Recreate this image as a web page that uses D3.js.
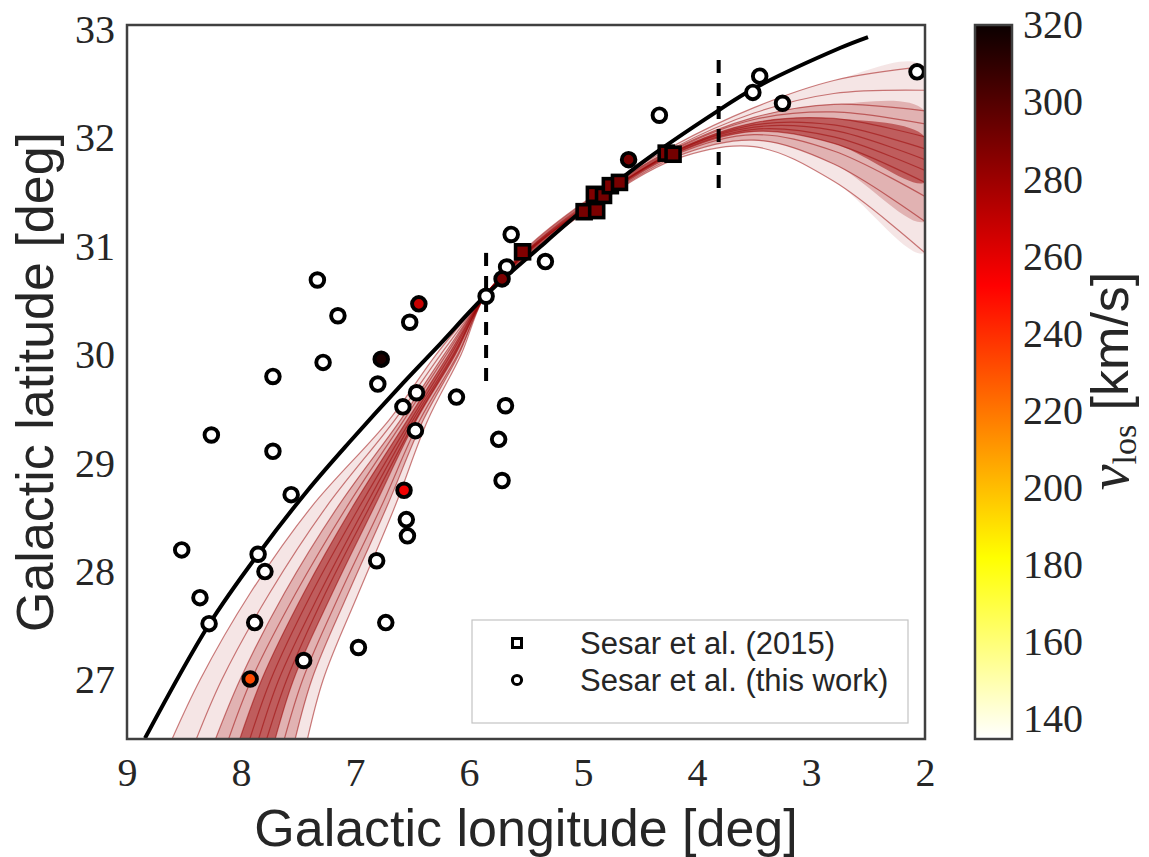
<!DOCTYPE html>
<html>
<head>
<meta charset="utf-8">
<script src="https://cdn.jsdelivr.net/npm/d3@7"></script>
<style>
  body { margin: 0; background: #fff; }
  svg { display: block; }
</style>
</head>
<body>
<svg id="chart"></svg>
<script>
// ---- values ----
const xTicks = [9, 8, 7, 6, 5, 4, 3, 2];
const yTicks = [27, 28, 29, 30, 31, 32, 33];
const cTicks = [140, 160, 180, 200, 220, 240, 260, 280, 300, 320];

// Sesar et al. (2015) - squares
const sqLon  = [5.53, 4.99, 4.88, 4.90, 4.82, 4.76, 4.68, 4.27, 4.21];
const sqLat  = [30.95, 31.32, 31.33, 31.48, 31.47, 31.56, 31.59, 31.86, 31.85];
const sqVlos = [288, 290, 289, 287, 291, 288, 290, 289, 291];

// Sesar et al. (this work) - circles, null = no velocity (open marker)
const ciLon = [7.33, 6.44, 7.15, 6.52, 6.77, 7.28, 7.72, 6.80, 6.46, 6.11,
               6.58, 6.47, 8.26, 7.72, 7.56, 6.57, 6.55, 6.54, 8.52, 7.85,
               7.79, 6.81, 8.36, 8.28, 7.88, 6.73, 6.97, 7.45, 7.92, 5.68,
               5.74, 5.71, 5.85, 5.71, 5.67, 5.63, 5.33, 4.60, 4.33, 3.51,
               3.45, 3.25, 2.07];
const ciLat = [30.69, 30.47, 30.36, 30.30, 29.96, 29.93, 29.80, 29.73, 29.65, 29.61,
               29.52, 29.30, 29.26, 29.11, 28.71, 28.75, 28.48, 28.33, 28.20, 28.16,
               28.00, 28.10, 27.76, 27.52, 27.53, 27.53, 27.30, 27.18, 27.01, 29.53,
               29.22, 28.84, 30.54, 30.70, 30.81, 31.11, 30.86, 31.80, 32.21, 32.42,
               32.57, 32.32, 32.61];
const ciVlos = [null, 268, null, null, 315, null, null, null, null, null,
                null, null, null, null, null, 256, null, null, null, null,
                null, null, null, null, null, null, null, null, 232, null,
                null, null, null, 289, null, null, null, 290, null, null,
                null, null, null];

// best-fit stream track (black line)
const fitLon = [8.842, 8.283, 7.848, 7.412, 7.044, 6.579, 6.254, 5.851, 5.377, 4.991, 4.500, 3.807, 3.509, 2.746, 2.500];
const fitLat = [26.464, 27.508, 28.163, 28.753, 29.200, 29.739, 30.099, 30.551, 30.994, 31.344, 31.759, 32.257, 32.452, 32.830, 32.931];

// dashed vertical markers
const dashLon = [5.85, 3.81];
const dashLo  = [29.73, 31.50];
const dashHi  = [30.94, 32.72];

// orbit samples (red fan): left part as lon at fixed latitudes,
// a common node, right part as lat at fixed longitudes
const fanLeftLat = [26.3, 27.0, 27.8, 28.6, 29.4, 30.0];
const fanLeftLon = [
  [8.67, 8.36, 7.92, 7.38, 6.70, 6.29],
  [8.45, 8.17, 7.75, 7.25, 6.65, 6.25],
  [8.28, 8.01, 7.62, 7.15, 6.60, 6.22],
  [8.16, 7.91, 7.52, 7.07, 6.57, 6.20],
  [8.06, 7.82, 7.45, 7.02, 6.54, 6.18],
  [7.97, 7.74, 7.38, 6.96, 6.51, 6.16],
  [7.89, 7.67, 7.31, 6.91, 6.49, 6.14],
  [7.82, 7.60, 7.26, 6.87, 6.47, 6.13],
  [7.74, 7.54, 7.20, 6.83, 6.46, 6.12],
  [7.66, 7.46, 7.13, 6.77, 6.43, 6.10],
  [7.56, 7.38, 7.06, 6.72, 6.40, 6.09],
  [7.45, 7.28, 6.97, 6.65, 6.36, 6.07]
];
const fanNode = [5.85, 30.56];
const fanRightLon = [5.5, 5.0, 4.2, 3.5, 2.8, 2.0];
const fanRightLat = [
  [30.98, 31.40, 31.93, 32.28, 32.53, 32.66],
  [30.97, 31.39, 31.91, 32.23, 32.41, 32.44],
  [30.96, 31.38, 31.90, 32.19, 32.31, 32.25],
  [30.95, 31.37, 31.89, 32.17, 32.24, 32.13],
  [30.95, 31.36, 31.88, 32.14, 32.18, 32.01],
  [30.94, 31.35, 31.87, 32.12, 32.12, 31.90],
  [30.94, 31.34, 31.87, 32.10, 32.07, 31.80],
  [30.93, 31.34, 31.86, 32.08, 32.01, 31.70],
  [30.93, 31.33, 31.85, 32.06, 31.95, 31.59],
  [30.92, 31.32, 31.84, 32.03, 31.88, 31.46],
  [30.91, 31.31, 31.82, 31.98, 31.76, 31.23],
  [30.90, 31.30, 31.80, 31.92, 31.60, 30.94]
];

// ---- layout ----
const W = 1149, H = 857;
const plotL = 127, plotR = 925, plotT = 25, plotB = 739;
const cbLeft = 975, cbRight = 1012;
const textColor = '#262626';
const serif = '"Liberation Serif", "DejaVu Serif", serif';
const sans = '"Liberation Sans", Arial, sans-serif';

const svg = d3.select('#chart')
  .attr('width', W)
  .attr('height', H);

const x = d3.scaleLinear().domain([9, 2]).range([plotL, plotR]);
const y = d3.scaleLinear().domain([26.456, 33.042]).range([plotB, plotT]);

// hot_r colour map
const cMin = 134.8, cMax = 320;
const hotStops = [0, 0.254, 0.635, 1];
const hotColors = ['#ffffff', '#ffff00', '#ff0000', '#0b0000'];
const color = d3.scaleLinear()
  .domain(hotStops.map(t => cMin + t * (cMax - cMin)))
  .range(hotColors)
  .clamp(true);

const defs = svg.append('defs');
defs.append('clipPath').attr('id', 'plotClip')
  .append('rect')
  .attr('x', plotL).attr('y', plotT)
  .attr('width', plotR - plotL).attr('height', plotB - plotT);

const grad = defs.append('linearGradient')
  .attr('id', 'hotR')
  .attr('x1', 0).attr('y1', 1).attr('x2', 0).attr('y2', 0);
hotStops.forEach((t, i) => {
  grad.append('stop').attr('offset', t).attr('stop-color', hotColors[i]);
});

const plotG = svg.append('g').attr('clip-path', 'url(#plotClip)');

const line = d3.line()
  .x(d => x(d[0]))
  .y(d => y(d[1]))
  .curve(d3.curveCatmullRom.alpha(0.5));

// build fan tracks
const tracks = fanLeftLon.map((row, i) => {
  const pts = row.map((lon, j) => [lon, fanLeftLat[j]]);
  pts.push(fanNode);
  fanRightLat[i].forEach((lat, j) => pts.push([fanRightLon[j], lat]));
  return pts;
});

// translucent bands between tracks: outer envelope, middle and core
const band = (a, b, op) => {
  const pts = tracks[a].concat(tracks[b].slice().reverse());
  plotG.append('path')
    .attr('d', line(pts) + 'Z')
    .attr('fill', '#9a0000')
    .attr('fill-opacity', op)
    .attr('stroke', 'none');
};
band(0, 11, 0.1);
band(2, 10, 0.22);
band(4, 8, 0.48);

tracks.forEach(pts => {
  plotG.append('path')
    .attr('d', line(pts))
    .attr('fill', 'none')
    .attr('stroke', '#9a0000')
    .attr('stroke-opacity', 0.5)
    .attr('stroke-width', 1.2);
});

// best-fit track
plotG.append('path')
  .attr('d', line(fitLon.map((lon, i) => [lon, fitLat[i]])))
  .attr('fill', 'none')
  .attr('stroke', '#000')
  .attr('stroke-width', 4);

// dashed markers
dashLon.forEach((lon, i) => {
  plotG.append('line')
    .attr('x1', x(lon)).attr('x2', x(lon))
    .attr('y1', y(dashHi[i])).attr('y2', y(dashLo[i]))
    .attr('stroke', '#000')
    .attr('stroke-width', 4)
    .attr('stroke-dasharray', '13,10');
});

// squares
const sq = 14;
sqLon.forEach((lon, i) => {
  plotG.append('rect')
    .attr('x', x(lon) - sq / 2)
    .attr('y', y(sqLat[i]) - sq / 2)
    .attr('width', sq).attr('height', sq)
    .attr('fill', sqVlos[i] == null ? '#fff' : color(sqVlos[i]))
    .attr('stroke', '#000')
    .attr('stroke-width', 3.6);
});

// circles: open ones first, coloured ones on top
const order = d3.range(ciLon.length)
  .sort((a, b) => (ciVlos[a] == null ? 0 : 1) - (ciVlos[b] == null ? 0 : 1));
order.forEach(i => {
  plotG.append('circle')
    .attr('cx', x(ciLon[i]))
    .attr('cy', y(ciLat[i]))
    .attr('r', 6.8)
    .attr('fill', ciVlos[i] == null ? '#fff' : color(ciVlos[i]))
    .attr('stroke', '#000')
    .attr('stroke-width', 3.9);
});

// legend
const lg = svg.append('g');
lg.append('rect')
  .attr('x', 472).attr('y', 620)
  .attr('width', 436).attr('height', 103)
  .attr('fill', '#fff')
  .attr('stroke', '#c4c4c4')
  .attr('stroke-width', 1.2);
lg.append('rect')
  .attr('x', 517 - 4.5).attr('y', 643 - 4.5)
  .attr('width', 9).attr('height', 9)
  .attr('fill', '#fff').attr('stroke', '#000').attr('stroke-width', 3);
lg.append('circle')
  .attr('cx', 517).attr('cy', 680).attr('r', 4.6)
  .attr('fill', '#fff').attr('stroke', '#000').attr('stroke-width', 3);
[['Sesar et al. (2015)', 643], ['Sesar et al. (this work)', 680]].forEach(([t, ty]) => {
  lg.append('text')
    .attr('x', 580).attr('y', ty).attr('dy', '0.35em')
    .attr('font-family', sans).attr('font-size', 31)
    .attr('fill', textColor)
    .text(t);
});

// frame
svg.append('rect')
  .attr('x', plotL).attr('y', plotT)
  .attr('width', plotR - plotL).attr('height', plotB - plotT)
  .attr('fill', 'none')
  .attr('stroke', '#404040')
  .attr('stroke-width', 2.5);

// axes (no tick marks, like the original style)
const xAxis = svg.append('g')
  .attr('transform', `translate(0,${plotB})`)
  .call(d3.axisBottom(x).tickValues(xTicks).tickSize(0).tickPadding(19).tickFormat(d3.format('d')));
const yAxis = svg.append('g')
  .attr('transform', `translate(${plotL},0)`)
  .call(d3.axisLeft(y).tickValues(yTicks).tickSize(0).tickPadding(12).tickFormat(d3.format('d')));
[xAxis, yAxis].forEach(g => {
  g.select('.domain').remove();
  g.selectAll('text')
    .attr('font-family', serif)
    .attr('font-size', 40)
    .attr('fill', textColor);
});

svg.append('text')
  .attr('x', (plotL + plotR) / 2).attr('y', 846)
  .attr('text-anchor', 'middle')
  .attr('font-family', sans).attr('font-size', 52)
  .attr('fill', textColor)
  .text('Galactic longitude [deg]');

svg.append('text')
  .attr('transform', 'translate(53,382) rotate(-90)')
  .attr('text-anchor', 'middle')
  .attr('font-family', sans).attr('font-size', 52)
  .attr('fill', textColor)
  .text('Galactic latitude [deg]');

// colour bar
const c = d3.scaleLinear().domain([cMin, cMax]).range([plotB, plotT]);
svg.append('rect')
  .attr('x', cbLeft).attr('y', plotT)
  .attr('width', cbRight - cbLeft).attr('height', plotB - plotT)
  .attr('fill', 'url(#hotR)')
  .attr('stroke', '#404040')
  .attr('stroke-width', 2.5);

const cAxis = svg.append('g')
  .attr('transform', `translate(${cbRight},0)`)
  .call(d3.axisRight(c).tickValues(cTicks).tickSize(0).tickPadding(11).tickFormat(d3.format('d')));
cAxis.select('.domain').remove();
cAxis.selectAll('text')
  .attr('font-family', serif)
  .attr('font-size', 40)
  .attr('fill', textColor);

const cLabel = svg.append('text')
  .attr('transform', 'translate(1128,381) rotate(-90)')
  .attr('text-anchor', 'middle')
  .attr('fill', textColor);
cLabel.append('tspan')
  .attr('font-family', serif).attr('font-style', 'italic').attr('font-size', 58)
  .text('v');
cLabel.append('tspan')
  .attr('font-family', serif).attr('font-size', 34).attr('dy', 8)
  .text('los');
cLabel.append('tspan')
  .attr('font-family', sans).attr('font-size', 52).attr('dy', -8)
  .text(' [km/s]');
</script>
</body>
</html>
